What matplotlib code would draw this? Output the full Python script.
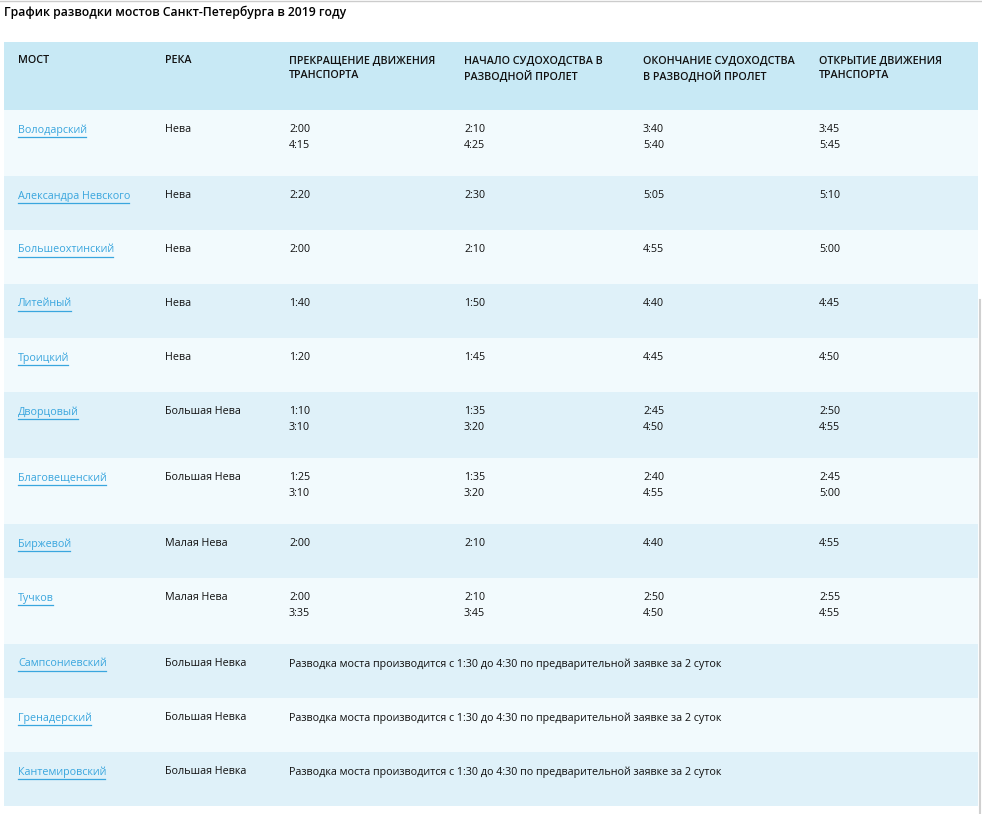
import matplotlib.pyplot as plt
from matplotlib.patches import Rectangle

plt.rcParams['font.family'] = ['Open Sans', 'DejaVu Sans']

title = 'График разводки мостов Санкт-Петербурга в 2019 году'
headers = ['МОСТ', 'РЕКА', 'ПРЕКРАЩЕНИЕ ДВИЖЕНИЯ\nТРАНСПОРТА', 'НАЧАЛО СУДОХОДСТВА В\nРАЗВОДНОЙ ПРОЛЕТ',
           'ОКОНЧАНИЕ СУДОХОДСТВА\nВ РАЗВОДНОЙ ПРОЛЕТ', 'ОТКРЫТИЕ ДВИЖЕНИЯ\nТРАНСПОРТА']

bridges = ['Володарский', 'Александра Невского', 'Большеохтинский', 'Литейный', 'Троицкий',
           'Дворцовый', 'Благовещенский', 'Биржевой', 'Тучков', 'Сампсониевский',
           'Гренадерский', 'Кантемировский']
rivers = ['Нева', 'Нева', 'Нева', 'Нева', 'Нева', 'Большая Нева', 'Большая Нева',
          'Малая Нева', 'Малая Нева', 'Большая Невка', 'Большая Невка', 'Большая Невка']
stop_traffic = ['2:00\n4:15', '2:20', '2:00', '1:40', '1:20', '1:10\n3:10', '1:25\n3:10',
                '2:00', '2:00\n3:35', None, None, None]
ships_start = ['2:10\n4:25', '2:30', '2:10', '1:50', '1:45', '1:35\n3:20', '1:35\n3:20',
               '2:10', '2:10\n3:45', None, None, None]
ships_end = ['3:40\n5:40', '5:05', '4:55', '4:40', '4:45', '2:45\n4:50', '2:40\n4:55',
             '4:40', '2:50\n4:50', None, None, None]
open_traffic = ['3:45\n5:45', '5:10', '5:00', '4:45', '4:50', '2:50\n4:55', '2:45\n5:00',
                '4:55', '2:55\n4:55', None, None, None]
note = 'Разводка моста производится с 1:30 до 4:30 по предварительной заявке за 2 суток'

W, H = 982, 814
col_x = [18, 165, 289, 464, 643, 819]
tbl_left, tbl_right = 4, 978
header_top, header_h = 42, 68
line_h = 16
base_h = 54

header_bg = '#c8e9f5'
row_bg = ['#f2fafd', '#dff1f9']
link_color = '#3aa6de'
text_color = '#111111'
fs = 7.75

fig = plt.figure(figsize=(W / 100, H / 100), dpi=100)
ax = fig.add_axes([0, 0, 1, 1])
ax.set_xlim(0, W)
ax.set_ylim(H, 0)
ax.axis('off')

ax.axhline(0.5, color='#cccccc', lw=1)
ax.plot([980, 980], [300, H], color='#d0d0d0', lw=1.5)

ax.text(4, 12, title, fontsize=8.8, color='#000000', va='center', ha='left',
        fontweight='semibold')

ax.add_patch(Rectangle((tbl_left, header_top), tbl_right - tbl_left, header_h,
                       facecolor=header_bg, edgecolor='none'))
for x, h in zip(col_x, headers):
    ax.text(x, header_top + 19 - 6, h, fontsize=fs, color=text_color, va='top', ha='left',
            linespacing=1.5, fontweight='semibold')

fig.canvas.draw()
renderer = fig.canvas.get_renderer()

y = header_top + header_h
for i, name in enumerate(bridges):
    cells = [stop_traffic[i], ships_start[i], ships_end[i], open_traffic[i]]
    n_lines = max(c.count('\n') + 1 if c else 1 for c in cells)
    rh = base_h + (n_lines - 1) * 12
    ax.add_patch(Rectangle((tbl_left, y), tbl_right - tbl_left, rh,
                           facecolor=row_bg[i % 2], edgecolor='none'))
    ty = y + 20
    t = ax.text(col_x[0], ty, name, fontsize=fs, color=link_color, va='center', ha='left')
    bb = t.get_window_extent(renderer)
    ax.plot([col_x[0], col_x[0] + bb.width - 1], [ty + 7, ty + 7], color=link_color, lw=0.9)
    ax.text(col_x[1], ty, rivers[i], fontsize=fs, color=text_color, va='center', ha='left')
    if cells[0] is None:
        ax.text(col_x[2], ty, note, fontsize=fs, color=text_color, va='center', ha='left')
    else:
        for x, c in zip(col_x[2:], cells):
            for k, line in enumerate(c.split('\n')):
                ax.text(x, ty + k * line_h, line, fontsize=fs, color=text_color,
                        va='center', ha='left')
    y += rh

fig.savefig('out.png', dpi=100)
